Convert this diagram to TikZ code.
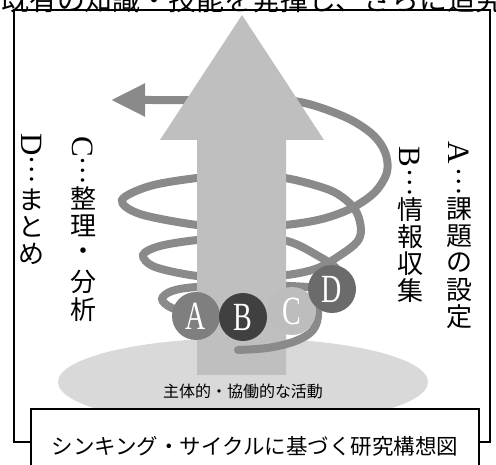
\documentclass[tikz,border=0pt]{standalone}
\usepackage{fontspec}
\setmainfont{Liberation Serif}
\newfontfamily\jp{Noto Sans CJK JP}
\usetikzlibrary{arrows.meta}
\definecolor{arrowgray}{HTML}{BFBFBF}
\definecolor{ellgray}{HTML}{D9D9D9}
\definecolor{spiralgray}{HTML}{8A8A8A}
\definecolor{ballA}{HTML}{7F7F7F}
\definecolor{ballB}{HTML}{404040}
\definecolor{ballC}{HTML}{BDBDBD}
\definecolor{ballD}{HTML}{6B6B6B}
\begin{document}
\begin{tikzpicture}[x=1pt,y=-1pt,
  frame/.style={draw=black,line width=1.2pt},
  spiral/.style={draw=spiralgray,line width=8pt,line cap=round},
  jpchar/.style={inner sep=0pt,font=\jp\fontsize{26pt}{26pt}\selectfont},
  latchar/.style={inner sep=0pt,font=\fontsize{31pt}{31pt}\selectfont},
  ball/.style={circle,inner sep=0pt,minimum size=48pt,text=white,font=\fontsize{40pt}{40pt}\selectfont}]
\useasboundingbox (0,0) rectangle (496,465);
\clip (0,0) rectangle (496,465);
\fill[white] (0,0) rectangle (496,465);
% clipped heading
\node[anchor=base west,inner sep=0pt,font=\jp\fontsize{27.9pt}{28pt}\selectfont] (heading) at (1,11) {既有の知識・技能を発揮し、さらに追究};
% outer frame
\draw[frame] (14,10) rectangle (490,442);
% base ellipse
\fill[ellgray] (243,382) ellipse [x radius=185pt, y radius=44pt];
% spiral behind the arrow
\draw[spiral,-{Triangle[length=34pt,width=31pt]}] plot[smooth,tension=0.55] coordinates {
 (320,288) (290,286) (250,286) (197,287) (172,291) (162,299) (172,308) (200,315) (260,316) (305,306) (335,292) (344,280) (336,268) (320,257) (287,241) (240,237) (197,240) (160,246) (143,255) (155,267) (197,276) (240,278) (287,275) (318,268) (342,254) (357,242) (361,230) (357,213) (346,200) (327,189) (285,178) (240,175) (197,178) (150,186) (122,200) (140,214) (197,225) (240,227) (285,225) (322,219) (352,208) (375,192) (387,172) (385,152) (372,134) (345,117) (300,102) (250,99) (190,100) (150,100) (111,100)};
% big arrow
\fill[arrowgray] (197,375) -- (197,140) -- (160,140) -- (242,15) -- (324,140) -- (286,140) -- (286,375) -- cycle;
% start of the spiral in front
\draw[spiral] plot[smooth,tension=0.6] coordinates {(238,350) (267,348) (293,342) (310,333) (317,322) (318,310)};
% balls
\node[ball,fill=ballC] (bC) at (292,311) {\scalebox{0.7}[1]{C}};
\node[ball,fill=ballA] (bA) at (196,316) {\scalebox{0.7}[1]{A}};
\node[ball,fill=ballB] (bB) at (243,317) {\scalebox{0.7}[1]{B}};
\node[ball,fill=ballD] (bD) at (332,289) {\scalebox{0.7}[1]{D}};
% label on ellipse
\node[inner sep=0pt,font=\jp\fontsize{16pt}{16pt}\selectfont] (activity) at (243,391) {主体的・協働的な活動};
% vertical column A
\node[latchar] (aL) at (459,153) {\rotatebox{-90}{A}};
\node[jpchar] (aD) at (459,181) {\rotatebox{-90}{…}};
\foreach \c [count=\i] in {課,題,の,設,定} \node[jpchar] (a\i) at (459,{182+27*\i}) {\c};
% vertical column B
\node[latchar] (bL) at (410,157) {\rotatebox{-90}{B}};
\node[jpchar] (bDt) at (410,182) {\rotatebox{-90}{…}};
\foreach \c [count=\i] in {情,報,収,集} \node[jpchar] (b\i) at (410,{183+27*\i}) {\c};
% vertical column C
\node[latchar] (cL) at (83,147) {\rotatebox{-90}{C}};
\node[jpchar] (cDt) at (83,170) {\rotatebox{-90}{…}};
\foreach \c [count=\i] in {整,理,・,分,析} \node[jpchar] (c\i) at (83,{170+28*\i}) {\c};
% vertical column D
\node[latchar] (dL) at (32,145) {\rotatebox{-90}{D}};
\node[jpchar] (dDt) at (32,169) {\rotatebox{-90}{…}};
\foreach \c [count=\i] in {ま,と,め} \node[jpchar] (d\i) at (32,{173+27*\i}) {\c};
% caption box
\draw[frame,fill=white] (31,409) rectangle (479,490);
\node[inner sep=0pt,font=\jp\fontsize{21.5pt}{22pt}\selectfont] (caption) at (255,446) {シンキング・サイクルに基づく研究構想図};
\end{tikzpicture}
\end{document}
